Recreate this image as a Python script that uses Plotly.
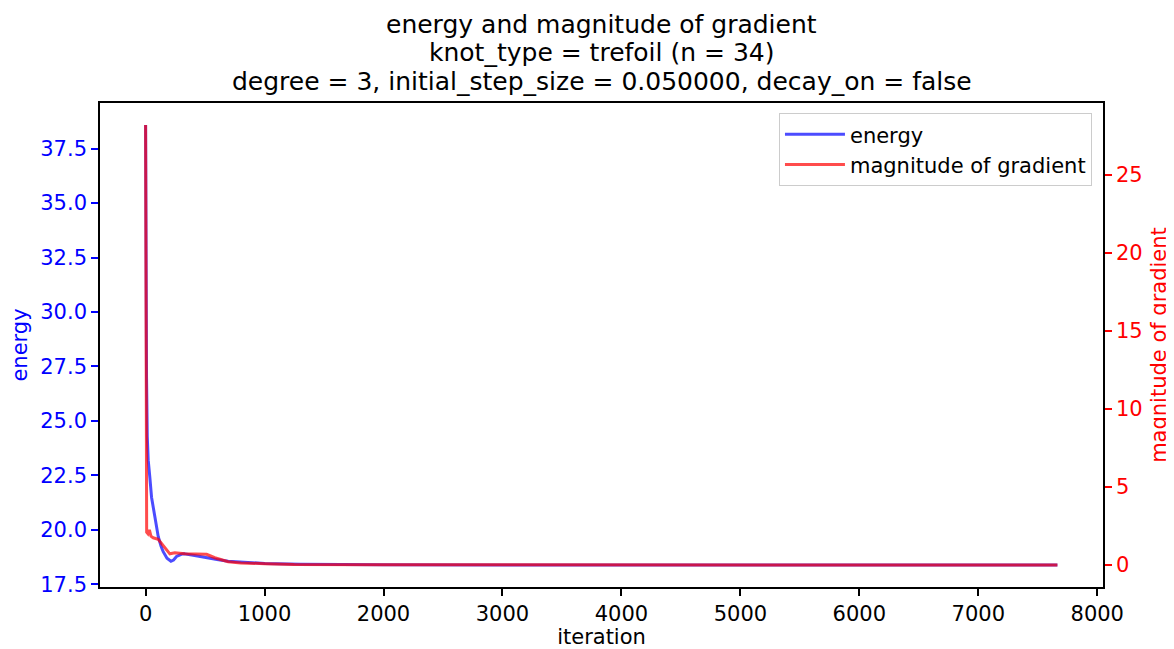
import plotly.graph_objects as go

# ---- data ----
energy_iter = [0, 2, 4, 8, 14, 22, 36, 50, 78, 106, 130, 148, 180, 213, 235, 260, 300, 324,
               400, 471, 600, 694, 850, 1003, 1300, 2000, 4000, 7665]
energy_vals = [38.58, 34.3, 31.1, 27.0, 24.3, 23.2, 22.4, 21.5, 20.6, 19.7, 19.25, 19.0, 18.7,
               18.56, 18.62, 18.78, 18.88, 18.9, 18.84, 18.76, 18.64, 18.56, 18.5, 18.46, 18.42,
               18.40, 18.39, 18.39]

grad_iter = [0, 2, 4, 6, 9, 20, 32, 45, 64, 106, 162, 204, 246, 330, 513, 582, 694, 800,
             1003, 1250, 2000, 4000, 7665]
grad_vals = [28.2, 22.0, 15.0, 6.0, 2.1, 2.0, 2.25, 1.85, 1.75, 1.65, 1.15, 0.72, 0.79, 0.72,
             0.69, 0.47, 0.21, 0.14, 0.09, 0.04, 0.02, 0.01, 0.005]

x_ticks = [0, 1000, 2000, 3000, 4000, 5000, 6000, 7000, 8000]
energy_ticks = [17.5, 20.0, 22.5, 25.0, 27.5, 30.0, 32.5, 35.0, 37.5]
grad_ticks = [0, 5, 10, 15, 20, 25]

title_lines = ["energy and magnitude of gradient",
               "knot_type = trefoil (n = 34)",
               "degree = 3, initial_step_size = 0.050000, decay_on = false"]

FONT = "DejaVu Sans"
BLUE = "rgba(0,0,255,0.7)"
RED = "rgba(255,0,0,0.7)"

# the page body has an 8px margin; the figure is sized/placed to compensate
W, H = 1166, 641
ML, MR, MT, MB = 92, 71, 95, 62

fig = go.Figure()
fig.add_trace(go.Scatter(x=energy_iter, y=energy_vals, mode="lines", name="energy",
                         line=dict(color=BLUE, width=3)))
fig.add_trace(go.Scatter(x=grad_iter, y=grad_vals, mode="lines", name="magnitude of gradient",
                         line=dict(color=RED, width=3), yaxis="y2"))

xmax = max(energy_iter)
xpad = 0.05 * xmax
emin, emax = min(energy_vals), max(energy_vals)
epad = 0.05 * (emax - emin)
gmin, gmax = min(grad_vals), max(grad_vals)
gpad = 0.05 * (gmax - gmin)

fig.update_layout(
    width=W, height=H,
    margin=dict(l=ML, r=MR, t=MT, b=MB, autoexpand=False),
    paper_bgcolor="white", plot_bgcolor="white",
    font=dict(family=FONT, size=21, color="black"),
    showlegend=True,
    legend=dict(x=0.989, y=0.979, xanchor="right", yanchor="top",
                bgcolor="rgba(255,255,255,0.8)", bordercolor="#cccccc", borderwidth=1,
                font=dict(family=FONT, size=21, color="black"),
                itemwidth=60, tracegroupgap=0),
    xaxis=dict(range=[-xpad, xmax + xpad], tickvals=x_ticks,
               ticktext=[str(v) for v in x_ticks],
               showgrid=False, zeroline=False, showline=True, linecolor="black", linewidth=1.6,
               mirror=True, ticks="outside", ticklen=7, tickwidth=1.6, tickcolor="black",
               tickfont=dict(family=FONT, size=21, color="black"),
               title=dict(text="iteration", font=dict(family=FONT, size=21, color="black"),
                          standoff=6)),
    yaxis=dict(range=[emin - epad, emax + epad], tickvals=energy_ticks,
               ticktext=[f"{v:.1f}" for v in energy_ticks],
               showgrid=False, zeroline=False, showline=True, linecolor="black", linewidth=1.6,
               ticks="outside", ticklen=7, tickwidth=1.6, tickcolor="blue",
               tickfont=dict(family=FONT, size=21, color="blue"),
               title=dict(text="energy", font=dict(family=FONT, size=21, color="blue"),
                          standoff=8)),
    yaxis2=dict(range=[gmin - gpad, gmax + gpad], tickvals=grad_ticks,
                ticktext=[str(v) for v in grad_ticks],
                overlaying="y", side="right",
                showgrid=False, zeroline=False, showline=True, linecolor="black", linewidth=1.6,
                ticks="outside", ticklen=7, tickwidth=1.6, tickcolor="red",
                tickfont=dict(family=FONT, size=21, color="red"),
                title=dict(text="magnitude of gradient",
                           font=dict(family=FONT, size=21, color="red"), standoff=10)),
)

# title lines (centres in figure pixel coordinates)
plot_h = H - MT - MB
for line, ypix in zip(title_lines, [17, 44.5, 73]):
    fig.add_annotation(text=line, xref="paper", yref="paper", x=0.5,
                       y=(H - MB - ypix) / plot_h, xanchor="center", yanchor="middle",
                       showarrow=False, font=dict(family=FONT, size=25, color="black"))

fig.write_html("out.html")
